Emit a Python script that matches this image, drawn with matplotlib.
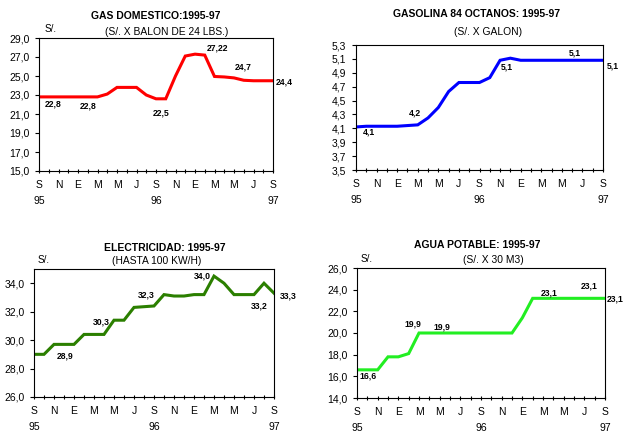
import matplotlib
matplotlib.use("Agg")
import matplotlib.pyplot as plt
import numpy as np

plt.rcParams['font.family'] = ['Liberation Sans', 'DejaVu Sans']

# ---------------- data (monthly, Sep 1995 .. Sep 1997) ----------------
month_labels = ["S", "N", "E", "M", "M", "J", "S", "N", "E", "M", "M", "J", "S"]
year_labels = ["95", "96", "97"]
year_pos = [0, 12, 24]

gas = [22.8, 22.8, 22.8, 22.8, 22.8, 22.8, 22.8, 23.1, 23.8, 23.8, 23.8, 23.0,
       22.6, 22.6, 25.0, 27.1, 27.3, 27.2, 24.95, 24.9, 24.8, 24.55, 24.5, 24.5, 24.5]
gasolina = [4.12, 4.13, 4.13, 4.13, 4.13, 4.14, 4.15, 4.25, 4.40, 4.63, 4.76, 4.76,
            4.76, 4.83, 5.08, 5.11, 5.08, 5.08, 5.08, 5.08, 5.08, 5.08, 5.08, 5.08, 5.08]
electricidad = [29.0, 29.0, 29.7, 29.7, 29.7, 30.4, 30.4, 30.4, 31.4, 31.4, 32.3, 32.35,
                32.4, 33.2, 33.1, 33.1, 33.2, 33.2, 34.5, 34.0, 33.2, 33.2, 33.2, 34.0, 33.3]
agua = [16.6, 16.6, 16.6, 17.8, 17.8, 18.1, 20.0, 20.0, 20.0, 20.0, 20.0, 20.0,
        20.0, 20.0, 20.0, 20.0, 21.4, 23.2, 23.2, 23.2, 23.2, 23.2, 23.2, 23.2, 23.2]

gas_lbl = [(1, 22.8, "22,8"), (5, 22.8, "22,8"), (12, 22.6, "22,5"),
           (17, 27.2, "27,22"), (20, 24.8, "24,7"), (24, 24.5, "24,4")]
gasolina_lbl = [(1, 4.13, "4,1"), (6, 4.15, "4,2"), (14, 5.08, "5,1"),
                (21, 5.08, "5,1"), (24, 5.08, "5,1")]
elec_lbl = [(3, 29.7, "28,9"), (7, 30.4, "30,3"), (11, 32.35, "32,3"),
            (18, 34.5, "34,0"), (22, 33.2, "33,2"), (24, 33.3, "33,3")]
agua_lbl = [(6, 20.0, "19,9"), (8, 20.0, "19,9"), (1, 16.6, "16,6"),
            (19, 23.2, "23,1"), (22, 23.2, "23,1"), (24, 23.2, "23,1")]

W, H = 641, 447
fig = plt.figure(figsize=(W / 100, H / 100), dpi=100)
PT = 0.72  # points per pixel


def make_ax(left, right, top, bottom):
    return fig.add_axes([left / W, 1 - bottom / H, (right - left) / W, (bottom - top) / H])


def fmt(v, nd):
    return f"{v:.{nd}f}".replace(".", ",")


def panel(box, data, color, ylim, ystep, nd, title, subtitle, title_xy, sub_xy,
          syl_xy, labels, offsets):
    ax = make_ax(*box)
    x = np.arange(len(data))
    ax.plot(x, data, color=color, lw=2.2, solid_joinstyle='miter')
    ax.set_xlim(0, 24)
    ax.set_ylim(*ylim)
    yt = np.arange(ylim[0], ylim[1] + 1e-9, ystep)
    ax.set_yticks(yt)
    ax.set_yticklabels([fmt(v, nd) for v in yt], fontsize=7.5)
    ax.set_xticks(np.arange(0, 25, 1), minor=True)
    ax.set_xticks(np.arange(0, 25, 2))
    ax.set_xticklabels(month_labels, fontsize=7.5)
    ax.tick_params(axis='x', which='both', direction='inout', length=4 * PT,
                   width=0.8, pad=5.2)
    ax.tick_params(axis='y', direction='out', length=4 * PT, width=0.8, pad=4.0)
    for s in ax.spines.values():
        s.set_linewidth(0.8)
    for xp, yl in zip(year_pos, year_labels):
        ax.annotate(yl, xy=(xp, 0), xycoords=('data', 'axes fraction'),
                    xytext=(0, -30 * PT), textcoords='offset points',
                    ha='center', va='center', fontsize=7.5)
    for (i, v, t), (dx, dy) in zip(labels, offsets):
        ax.annotate(t, xy=(i, v), xytext=(dx * PT, dy * PT), textcoords='offset points',
                    ha='center', va='center', fontsize=6.2, fontweight='bold')
    fig.text(title_xy[0] / W, 1 - title_xy[1] / H, title, ha='center', va='center',
             fontsize=7.5, fontweight='bold')
    fig.text(sub_xy[0] / W, 1 - sub_xy[1] / H, subtitle, ha='center', va='center',
             fontsize=7.4)
    if syl_xy is not None:
        fig.text(syl_xy[0] / W, 1 - syl_xy[1] / H, "S/.", ha='center', va='center',
                 fontsize=7.2)
    return ax


panel((39, 273, 38, 171), gas, '#ff0000', (15, 29), 2, 1,
      "GAS DOMESTICO:1995-97", "(S/. X BALON DE 24 LBS.)", (156, 16), (167, 32), (51, 29),
      gas_lbl, [(4, -7), (0, -9), (5, -14), (13, 7), (9, 11), (11, -1)])

panel((356, 603, 45, 170), gasolina, '#0000ff', (3.5, 5.3), 0.2, 1,
      "GASOLINA 84 OCTANOS: 1995-97", "(S/. X GALON)", (477, 14), (488, 32), None,
      gasolina_lbl, [(3, -6), (-3, 12), (7, -7), (3, 7), (10, -6)])

panel((34, 274, 269, 397), electricidad, '#2b7f00', (26, 35), 2, 1,
      "ELECTRICIDAD: 1995-97", "(HASTA 100 KW/H)", (165, 248), (157, 261), (44, 260),
      elec_lbl, [(1, -12), (-3, 12), (2, 12), (-12, 0), (5, -11), (14, -3)])

panel((357, 605, 268, 398), agua, '#22ee22', (14, 26), 2, 1,
      "AGUA POTABLE: 1995-97", "(S/. X 30 M3)", (477, 245), (493, 260), (367, 259),
      agua_lbl, [(-6, 9), (2, 6), (1, -6), (-4, 5), (5, 12), (10, -1)])

fig.savefig("out.png", dpi=100)
